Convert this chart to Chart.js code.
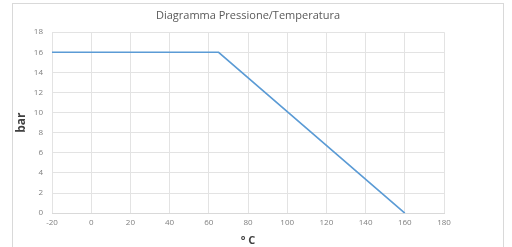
<!DOCTYPE html>
<html>
<head>
<meta charset="utf-8">
<script src="https://cdn.jsdelivr.net/npm/chart.js@4"></script>
<style>
  html, body { margin: 0; padding: 0; background: #fff; }
  #wrap { position: relative; width: 512px; height: 247px; }
  #frame { position: absolute; left: 12px; top: 3px; width: 492px; height: 250px; border: 1px solid #d9d9d9; box-sizing: border-box; }
  canvas { position: absolute; left: 0; top: 0; }
</style>
</head>
<body>
<div id="wrap">
  <div id="frame"></div>
  <canvas id="chart" width="512" height="247"></canvas>
</div>
<script>
const temperature = [-20, 65, 160];
const pressure = [16, 16, 0];
const titolo = 'Diagramma Pressione/Temperatura';
const asseX = '° C';
const asseY = 'bar';

const punti = temperature.map((t, i) => ({ x: t, y: pressure[i] }));

const ctx = document.getElementById('chart').getContext('2d');
new Chart(ctx, {
    type: 'scatter',
    data: {
        datasets: [{
            data: punti,
            showLine: true,
            borderColor: '#5b9bd5',
            borderWidth: 1.6,
            pointRadius: 0,
            fill: false
        }]
    },
    options: {
        responsive: false,
        animation: false,
        layout: { padding: { left: 14, right: 68, top: 4, bottom: 0 } },
        plugins: {
            legend: { display: false },
            tooltip: { enabled: false },
            title: {
                display: true,
                fullSize: false,
                text: titolo,
                color: '#595959',
                font: { family: 'Open Sans', size: 11, weight: 'normal' },
                padding: { top: 5, bottom: 10 }
            }
        },
        scales: {
            x: {
                type: 'linear',
                min: -20,
                max: 180,
                ticks: { stepSize: 20, color: '#7f7f7f', font: { family: 'Open Sans', size: 8 }, padding: 5 },
                grid: { color: '#e3e3e3', drawTicks: false },
                border: { color: '#d9d9d9' },
                title: { display: true, text: asseX, color: '#404040', font: { family: 'Open Sans', size: 11, weight: 'bold' }, padding: { top: 1, bottom: 0 } }
            },
            y: {
                min: 0,
                max: 18,
                afterFit: (scale) => { scale.width = 38; },
                ticks: { stepSize: 2, color: '#7f7f7f', font: { family: 'Open Sans', size: 8 }, padding: 9 },
                grid: { color: '#e3e3e3', drawTicks: false },
                border: { display: false },
                title: { display: true, text: asseY, color: '#404040', font: { family: 'Open Sans', size: 12, weight: 'bold' }, padding: { top: 0, bottom: 0 } }
            }
        }
    }
});
</script>
</body>
</html>
